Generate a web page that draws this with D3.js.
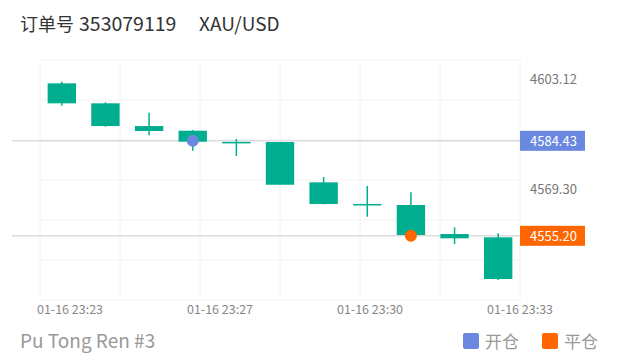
<!DOCTYPE html>
<html><head><meta charset="utf-8">
<script src="https://cdn.jsdelivr.net/npm/d3@7/dist/d3.min.js"></script>
<style>
html,body{margin:0;padding:0;background:#fff;}
svg{display:block;font-family:"Noto Sans CJK SC","Noto Sans",sans-serif;}
</style></head>
<body>
<svg id="c" width="620" height="364"></svg>
<script>
// ---- data ----
const titleParts = ["订单号", "353079119", "XAU/USD"];
const footerText = "Pu Tong Ren #3";
const candleIdx = [0,1,2,3,4,5,6,7,8,9,10];
const opens  = [4602.12, 4595.97, 4588.98, 4587.54, 4584.10, 4584.06, 4571.66, 4565.00, 4564.68, 4555.75, 4554.74];
const closes = [4595.97, 4588.98, 4587.45, 4584.15, 4583.85, 4570.92, 4564.98, 4564.80, 4555.45, 4554.43, 4541.91];
const highs  = [4602.60, 4596.28, 4593.08, 4587.75, 4584.98, 4584.06, 4573.29, 4570.52, 4568.58, 4557.81, 4555.97];
const lows   = [4595.23, 4588.77, 4586.12, 4581.38, 4579.75, 4570.80, 4564.89, 4561.08, 4555.40, 4552.68, 4541.60];
const yTickValues = [4603.12, 4569.30];
const openPrice = 4584.43, openIndex = 3;
const closePrice = 4555.20, closeIndex = 8;
const xTickLabels = ["01-16 23:23", "01-16 23:27", "01-16 23:30", "01-16 23:33"];
const legendLabels = ["开仓", "平仓"];
const yDomain = [4535.45, 4609.30];

// ---- layout ----
const L = 40, R = 520, T = 60, B = 300;
const green = "#00ae8f", blue = "#6a88e0", orange = "#ff6600";
const svg = d3.select("#c");

const x = d3.scalePoint().domain(candleIdx).range([L, R]).padding(0.5);
const y = d3.scaleLinear().domain(yDomain).range([B, T]);
const xl = d3.scalePoint().domain(xTickLabels).range([70, 520]);
const step = x.step(), bw = step * 0.65;

// title
const titleX = [20, 79, 199], titleSize = [18, 19.5, 19];
titleParts.forEach((t, i) => {
  svg.append("text").attr("x", titleX[i]).attr("y", 31).attr("font-size", titleSize[i])
    .attr("fill", "#333").text(t);
});

// grid
const g = svg.append("g");
d3.range(7).forEach(i => {
  const v = yDomain[0] + i * (yDomain[1] - yDomain[0]) / 6;
  g.append("line").attr("x1", L).attr("x2", R).attr("y1", y(v)).attr("y2", y(v))
    .attr("stroke", "#f2f2f2").attr("stroke-width", 1);
});
d3.range(7).forEach(i => {
  const xv = L + i * (R - L) / 6;
  g.append("line").attr("x1", xv).attr("x2", xv).attr("y1", T).attr("y2", B)
    .attr("stroke", "#f2f2f2").attr("stroke-width", 1);
});

// price lines
[openPrice, closePrice].forEach(p => {
  svg.append("line").attr("x1", 12).attr("x2", R).attr("y1", y(p)).attr("y2", y(p))
    .attr("stroke", "#dcdcdc").attr("stroke-width", 1.5);
});

// candles
const cg = svg.append("g");
candleIdx.forEach(i => {
  const cx = x(i);
  cg.append("line").attr("x1", cx).attr("x2", cx).attr("y1", y(highs[i])).attr("y2", y(lows[i]))
    .attr("stroke", green).attr("stroke-width", 1.5);
  const top = y(Math.max(opens[i], closes[i])), bot = y(Math.min(opens[i], closes[i]));
  const h = Math.max(bot - top, 1.5);
  cg.append("rect").attr("x", cx - bw / 2).attr("y", top).attr("width", bw).attr("height", h)
    .attr("fill", green);
});

// markers
svg.append("circle").attr("cx", x(openIndex)).attr("cy", y(openPrice)).attr("r", 6).attr("fill", blue);
svg.append("circle").attr("cx", x(closeIndex)).attr("cy", y(closePrice)).attr("r", 6).attr("fill", orange);

// y tick labels
yTickValues.forEach(v => {
  svg.append("text").attr("x", 530).attr("y", y(v) - 1.5).attr("dominant-baseline", "central")
    .attr("font-size", 13).attr("fill", "#777").text(v.toFixed(2));
});
// badges
[[openPrice, blue], [closePrice, orange]].forEach(([p, col]) => {
  svg.append("rect").attr("x", R).attr("y", y(p) - 10).attr("width", 65).attr("height", 20).attr("fill", col);
  svg.append("text").attr("x", 530).attr("y", y(p)).attr("dominant-baseline", "central")
    .attr("font-size", 13).attr("fill", "#fff").text(p.toFixed(2));
});

// x labels
xTickLabels.forEach(t => {
  svg.append("text").attr("x", xl(t)).attr("y", 308.5).attr("dominant-baseline", "central")
    .attr("text-anchor", "middle").attr("font-size", 12.5).attr("fill", "#888").text(t);
});

// footer
svg.append("text").attr("x", 20).attr("y", 348).attr("font-size", 19).attr("fill", "#999").text(footerText);
const legendCols = [blue, orange];
const legX = [463, 542];
legendLabels.forEach((t, i) => {
  svg.append("rect").attr("x", legX[i]).attr("y", 333).attr("width", 16).attr("height", 16).attr("rx", 2).attr("fill", legendCols[i]);
  svg.append("text").attr("x", legX[i] + 22).attr("y", 348).attr("font-size", 17).attr("fill", "#999").text(t);
});
</script>
</body></html>
